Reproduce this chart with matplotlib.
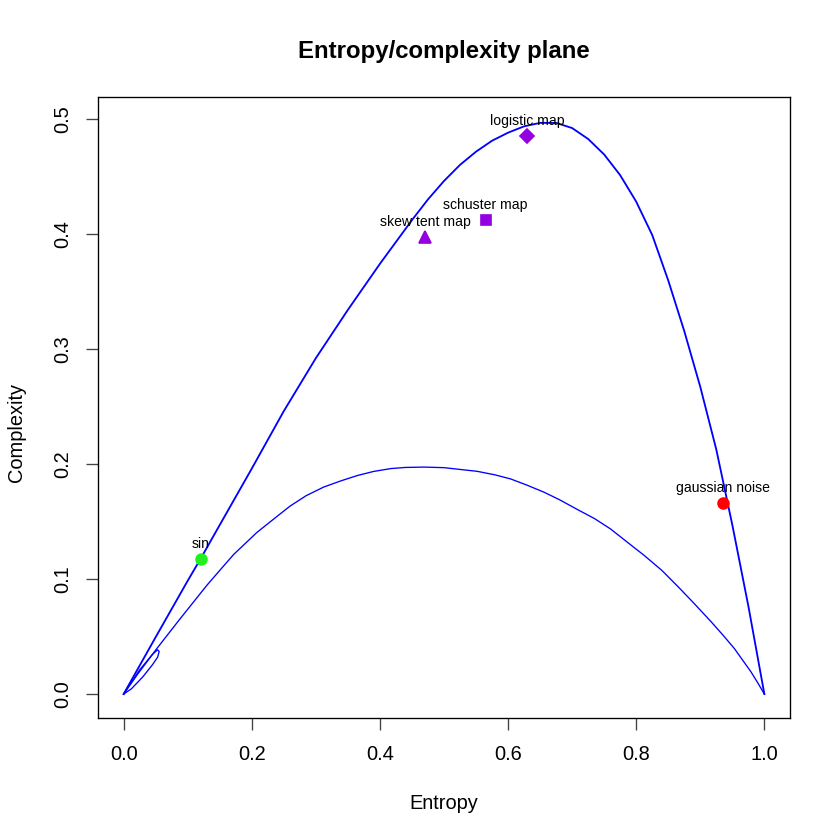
import numpy as np
import matplotlib
matplotlib.use("Agg")
import matplotlib.pyplot as plt

plt.rcParams['font.family'] = ['Liberation Sans', 'DejaVu Sans']

# upper (maximum complexity) boundary
max_H = [0.0, 0.05, 0.1, 0.12, 0.15, 0.2, 0.25, 0.3, 0.35, 0.4,
         0.45, 0.475, 0.5, 0.525, 0.55, 0.575, 0.6, 0.625, 0.65, 0.675,
         0.7, 0.725, 0.75, 0.775, 0.8, 0.825, 0.85, 0.875, 0.9, 0.925,
         0.95, 0.975, 1.0]
max_C = [0.0, 0.0495, 0.0985, 0.1175, 0.147, 0.196, 0.246, 0.292, 0.334, 0.374,
         0.412, 0.430, 0.446, 0.460, 0.4715, 0.481, 0.488, 0.4935, 0.4965, 0.4965,
         0.492, 0.4825, 0.469, 0.451, 0.428, 0.399, 0.3595, 0.3155, 0.267, 0.2125,
         0.147, 0.0765, 0.0]

# lower (minimum complexity) boundary
min_H = [0.0, 0.0208, 0.052, 0.0885, 0.13, 0.15, 0.172, 0.208, 0.235, 0.26,
         0.285, 0.3125, 0.34, 0.365, 0.39, 0.417, 0.44, 0.469, 0.5, 0.552,
         0.58, 0.604, 0.63, 0.656, 0.68, 0.708, 0.735, 0.76, 0.785, 0.8125,
         0.84, 0.865, 0.89, 0.917, 0.935, 0.953, 0.979, 0.99, 1.0]
min_C = [0.0, 0.0165, 0.0397, 0.0657, 0.0946, 0.1075, 0.1215, 0.1405, 0.1525, 0.1635,
         0.1725, 0.180, 0.1855, 0.190, 0.1935, 0.196, 0.197, 0.1973, 0.1968, 0.1936,
         0.1905, 0.187, 0.1815, 0.1755, 0.169, 0.1605, 0.1525, 0.1435, 0.1325, 0.1205,
         0.1075, 0.0935, 0.079, 0.0628, 0.0515, 0.0397, 0.0194, 0.0095, 0.0]

# small loop near the origin
loop_H = [0.0, 0.025, 0.045, 0.053, 0.0555, 0.053, 0.045, 0.03, 0.012, 0.0]
loop_C = [0.0, 0.021, 0.0345, 0.0385, 0.037, 0.032, 0.0255, 0.015, 0.0045, 0.0]

# series positions
names = ["sin", "skew tent map", "schuster map", "logistic map", "gaussian noise"]
ent = [0.120, 0.4703, 0.5651, 0.6297, 0.9354]
comp = [0.117, 0.3976, 0.412, 0.4847, 0.1664]
cols = ["#22EE22", "#9400E0", "#9400E0", "#9400E0", "#FF0000"]
marks = ["o", "^", "s", "D", "o"]
msizes = [6.5, 7.5, 5.8, 5.8, 6.5]

fig = plt.figure(figsize=(7, 7), dpi=120)
ax = fig.add_axes([98/840, 1-718/840, (790-98)/840, (718-97)/840])

ax.plot(max_H, max_C, color="blue", lw=1.1)
ax.plot(min_H, min_C, color="blue", lw=0.8)
ax.plot(loop_H, loop_C, color="blue", lw=0.8)

for n, h, c, col, m, s in zip(names, ent, comp, cols, marks, msizes):
    ax.plot(h, c, marker=m, color=col, markersize=s, linestyle="none")
    ax.annotate(n, (h, c), xytext=(0, 9), textcoords="offset points",
                ha="center", va="center", fontsize=8.4)

ax.set_xlim(-0.04, 1.04)
ax.set_ylim(-0.0208, 0.519)
ax.set_xticks([0.0, 0.2, 0.4, 0.6, 0.8, 1.0])
ax.set_yticks([0.0, 0.1, 0.2, 0.3, 0.4, 0.5])
ax.set_xticklabels(["0.0", "0.2", "0.4", "0.6", "0.8", "1.0"])
ax.set_yticklabels(["0.0", "0.1", "0.2", "0.3", "0.4", "0.5"])
ax.tick_params(direction="out", length=7.2, width=0.8, color="#444444",
               labelsize=12)
ax.tick_params(axis="x", pad=9)
ax.tick_params(axis="y", pad=8)
plt.setp(ax.get_yticklabels(), rotation=90, va="center")
for sp in ax.spines.values():
    sp.set_linewidth(0.8)
    sp.set_color("black")

fig.text(444/840, 1-58/840, "Entropy/complexity plane", ha="center",
         va="baseline", fontsize=14.4, fontweight="bold")
fig.text(444/840, 1-809/840, "Entropy", ha="center", va="baseline", fontsize=12)
fig.text(17/840, 407/840, "Complexity", ha="center", va="center",
         rotation=90, fontsize=12)

fig.savefig("out.png", dpi=120)
